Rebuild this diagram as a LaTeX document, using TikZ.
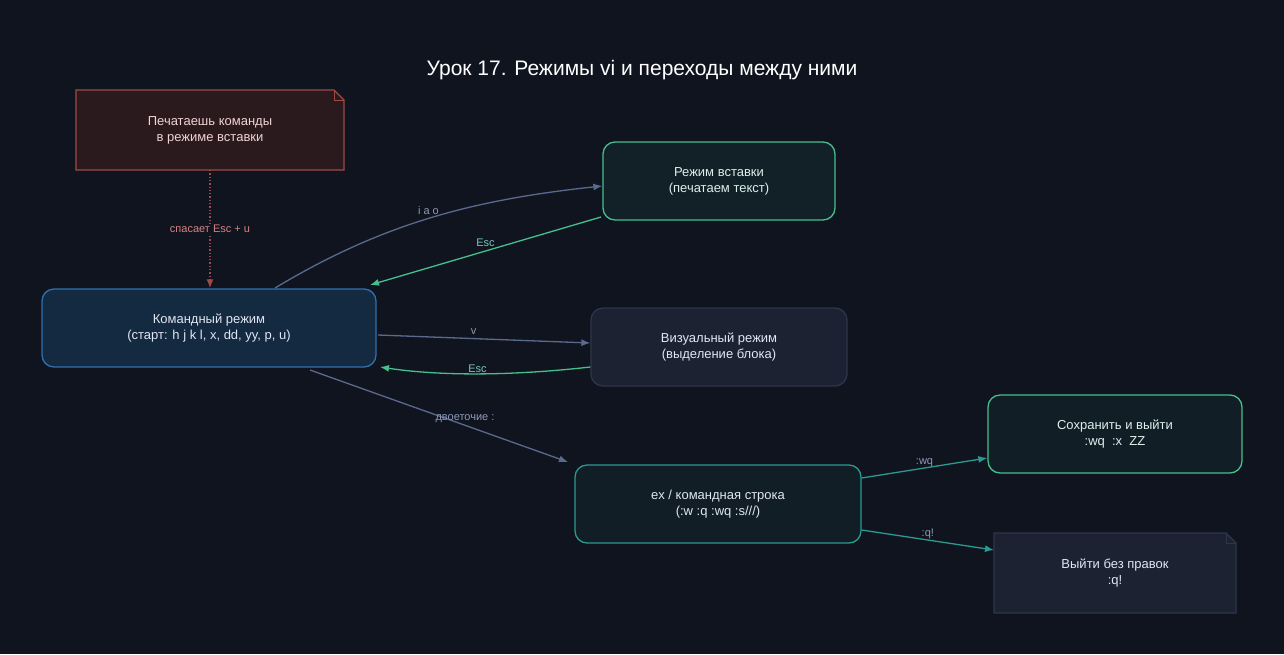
\documentclass[tikz,border=0pt]{standalone}
\usepackage{fontspec}
\setmainfont{Liberation Sans}
\usetikzlibrary{arrows.meta}
\definecolor{bg}{HTML}{10141F}
\definecolor{edge}{HTML}{5A6A8E}
\definecolor{grn}{HTML}{45C08C}
\definecolor{teal}{HTML}{2A9A90}
\definecolor{lbl}{HTML}{8C9AB8}
\definecolor{nred}{HTML}{A04A48}
\definecolor{nfill}{RGB}{42,26,30}
\definecolor{ntext}{RGB}{240,210,210}
\definecolor{gfill}{RGB}{28,34,50}
\definecolor{gdraw}{RGB}{44,54,76}
\definecolor{gtext}{RGB}{225,230,245}
\definecolor{cfill}{RGB}{20,42,64}
\definecolor{cdraw}{RGB}{48,112,176}
\definecolor{ifill}{RGB}{18,32,40}
\definecolor{itext}{RGB}{220,240,235}
\definecolor{efill}{RGB}{18,30,38}
\definecolor{esc}{RGB}{120,200,190}
\definecolor{rlbl}{RGB}{215,130,130}
\begin{document}
\begin{tikzpicture}[x=1pt,y=-1pt,
  box/.style={draw,rounded corners=12pt,line width=1.3pt,minimum height=78pt,align=center,font=\fontsize{13}{16}\selectfont},
  ar/.style={-{Latex[length=9pt,width=7pt]},line width=1.3pt},
  el/.style={font=\fontsize{11}{13}\selectfont,text=lbl}]
\fill[bg] (0,0) rectangle (1284,654);
\useasboundingbox (0,0) rectangle (1284,654);
\node[text=white,font=\fontsize{21}{25}\selectfont] (title) at (642,70) {Урок 17. Режимы vi и переходы между ними};
\fill[nfill] (76,90) -- (334,90) -- (344,100) -- (344,170) -- (76,170) -- cycle;
\draw[nred,line width=1.3pt] (76,90) -- (334,90) -- (344,100) -- (344,170) -- (76,170) -- cycle;
\draw[nred,line width=1pt] (334,90) -- (334,100) -- (344,100);
\node[text=ntext,align=center,font=\fontsize{13}{16}\selectfont] (note) at (210,130) {Печатаешь команды\\в режиме вставки};
\coordinate (noteb) at (210,170);
\node[box,fill=cfill,draw=cdraw,minimum width=334pt,text=gtext] (cmd) at (209,328) {Командный режим\\(старт: h j k l, x, dd, yy, p, u)};
\node[box,fill=ifill,draw=grn,minimum width=232pt,text=itext] (ins) at (719,181) {Режим вставки\\(печатаем текст)};
\node[box,fill=gfill,draw=gdraw,minimum width=256pt,text=gtext] (vis) at (719,347) {Визуальный режим\\(выделение блока)};
\node[box,fill=efill,draw=teal,minimum width=286pt,text=gtext] (ex) at (718,504) {ex / командная строка\\(:w :q :wq :s///)};
\node[box,fill=efill,draw=grn,minimum width=254pt,text=itext] (save) at (1115,434) {Сохранить и выйти\\:wq\ \ :x\ \ ZZ};
\fill[gfill] (994,533) -- (1226,533) -- (1236,543) -- (1236,613) -- (994,613) -- cycle;
\draw[gdraw,line width=1.3pt] (994,533) -- (1226,533) -- (1236,543) -- (1236,613) -- (994,613) -- cycle;
\draw[gdraw,line width=1pt] (1226,533) -- (1226,543) -- (1236,543);
\node[align=center,text=gtext,font=\fontsize{13}{16}\selectfont] (quit) at (1115,573) {Выйти без правок\\:q!};
\coordinate (quitw) at (994,550);
\draw[ar,nred,dotted,line width=1.6pt] (noteb) -- (cmd.north -| noteb) node[pos=0.5,fill=bg,inner sep=1pt,font=\fontsize{11}{13}\selectfont,text=rlbl] {спасает Esc + u};
\draw[ar,edge] (275,288) .. controls (380,225) and (470,200) .. (ins.west |- 0,186) node[pos=0.5,above,el] {i a o};
\draw[ar,grn] (601,217) -- (370,285) node[pos=0.5,above,el,text=esc] {Esc};
\draw[ar,edge] (378,335) -- (vis.west |- 0,343) node[pos=0.45,above,el] {v};
\draw[ar,grn] (vis.west |- 0,367) .. controls (510,376) and (440,376) .. (380,367) node[pos=0.5,above,el,text=esc,inner sep=1pt] {Esc};
\draw[ar,edge] (310,370) -- (568,462) node[pos=0.62,above,el,xshift=-5pt] {двоеточие :};
\draw[ar,teal] (ex.east |- 0,478) -- (save.west |- 0,458) node[pos=0.5,above,el,inner sep=1pt] {:wq};
\draw[ar,teal] (ex.east |- 0,530) -- (quitw) node[pos=0.5,above,el,inner sep=1pt] {:q!};
\end{tikzpicture}
\end{document}
